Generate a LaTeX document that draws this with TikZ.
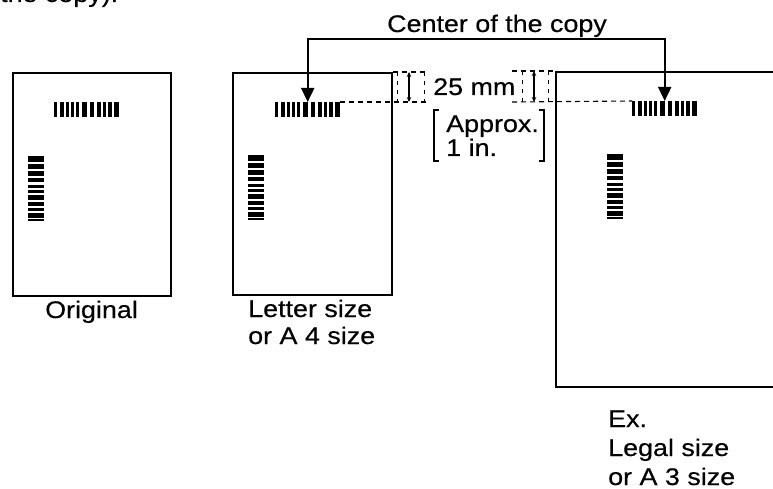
\documentclass[tikz,border=0pt]{standalone}
\usepackage{fontspec}
\setmainfont{Liberation Sans}[FakeStretch=1.12,FakeBold=0.4]
\usetikzlibrary{arrows.meta}
\tikzset{
  box/.style={draw, line width=1.8pt, inner sep=0, anchor=north west},
  codebox/.style={inner sep=0, anchor=north west},
  lbl/.style={inner sep=0, anchor=base west, font=\fontsize{24}{29}\selectfont},
  conn/.style={line width=1.8pt, {Triangle[width=13pt,length=14pt]}-{Triangle[width=13pt,length=14pt]}},
  dimarrow/.style={line width=1.1pt, {Stealth[width=4.5pt,length=5pt]}-{Stealth[width=4.5pt,length=5pt]}},
  dsh/.style={line width=1.1pt, dash pattern=on 5pt off 4pt},
  dshv/.style={line width=0.9pt, dash pattern=on 4pt off 5pt},
  brk/.style={line width=1.3pt},
  hcode/.pic={\foreach \a/\w in {0/3,6/4,12/3,17/3,22/3,28/5,36/4,43/4,49/3,54/4,60/5}
      \fill (\a,0) rectangle ++(\w,15);},
  vcode/.pic={\foreach \a/\w in {0/6,8/5,15/5,22/4,29/3,34/3,39/5,46/4,52/3,57/5,63/2}
      \fill (0,\a) rectangle ++(16,\w);}
}
\begin{document}
\begin{tikzpicture}[x=1pt,y=-1pt]
\useasboundingbox (0,0) rectangle (773,489);

% fragment of preceding text
\node[lbl] (prev) at (0,2) {the copy).};

% pages
\node[box, minimum width=158pt, minimum height=223pt] (orig) at (12,72) {};
\node[box, minimum width=159pt, minimum height=222pt] (letter) at (232,72) {};
\node[box, minimum width=280pt, minimum height=315pt] (legal) at (555,71) {};

% barcodes
\node[codebox, minimum width=65pt, minimum height=15pt] (hb1) at (54,102) {};
\pic at (54,102) {hcode};
\node[codebox, minimum width=16pt, minimum height=65pt] (vb1) at (28,156) {};
\pic at (28,156) {vcode};
\node[codebox, minimum width=65pt, minimum height=15pt] (hb2) at (275,102) {};
\pic at (275,102) {hcode};
\node[codebox, minimum width=16pt, minimum height=65pt] (vb2) at (248,155) {};
\pic at (248,155) {vcode};
\node[codebox, minimum width=65pt, minimum height=15pt] (hb3) at (632,101) {};
\pic at (632,101) {hcode};
\node[codebox, minimum width=16pt, minimum height=65pt] (vb3) at (607,154) {};
\pic at (607,154) {vcode};

% center connector
\node[lbl] (center) at (387,32) {Center of the copy};
\coordinate (ctop) at (486,39);
\draw[conn] (hb2.north) |- (ctop) -| (hb3.north);

% 25 mm dimension (left)
\draw[dsh] (letter.north east) -- (427,72);
\draw[dsh] (hb2.north east) -- (430,102);
\draw[dshv] (397,72) -- (397,102);
\draw[dshv] (424,72) -- (424,102);
\draw[dimarrow] (409,72) -- (409,102);
% 25 mm dimension (right)
\draw[dsh] (512,71) -- (legal.north west);
\draw[dsh] (512,102) -- (hb3.north west);
\draw[dshv] (522,71) -- (522,102);
\draw[dshv] (548,71) -- (548,102);
\draw[dimarrow] (534,71) -- (534,102);

\node[lbl] (mm) at (433,95) {25 mm};
\node[lbl] (approx) at (446,132) {Approx.};
\node[lbl] (inch) at (446,156) {1 in.};
\draw[brk] (439,110) -- (434,110) -- (434,161) -- (439,161);
\draw[brk] (539,110) -- (544,110) -- (544,161) -- (539,161);

% captions
\node[lbl] (origcap) at (45,318) {Original};
\node[lbl] (lettercap1) at (248,317) {Letter size};
\node[lbl] (lettercap2) at (248,344) {or A 4 size};
\node[lbl] (legalcap1) at (608,427) {Ex.};
\node[lbl] (legalcap2) at (608,456) {Legal size};
\node[lbl] (legalcap3) at (608,485) {or A 3 size};
\end{tikzpicture}
\end{document}
